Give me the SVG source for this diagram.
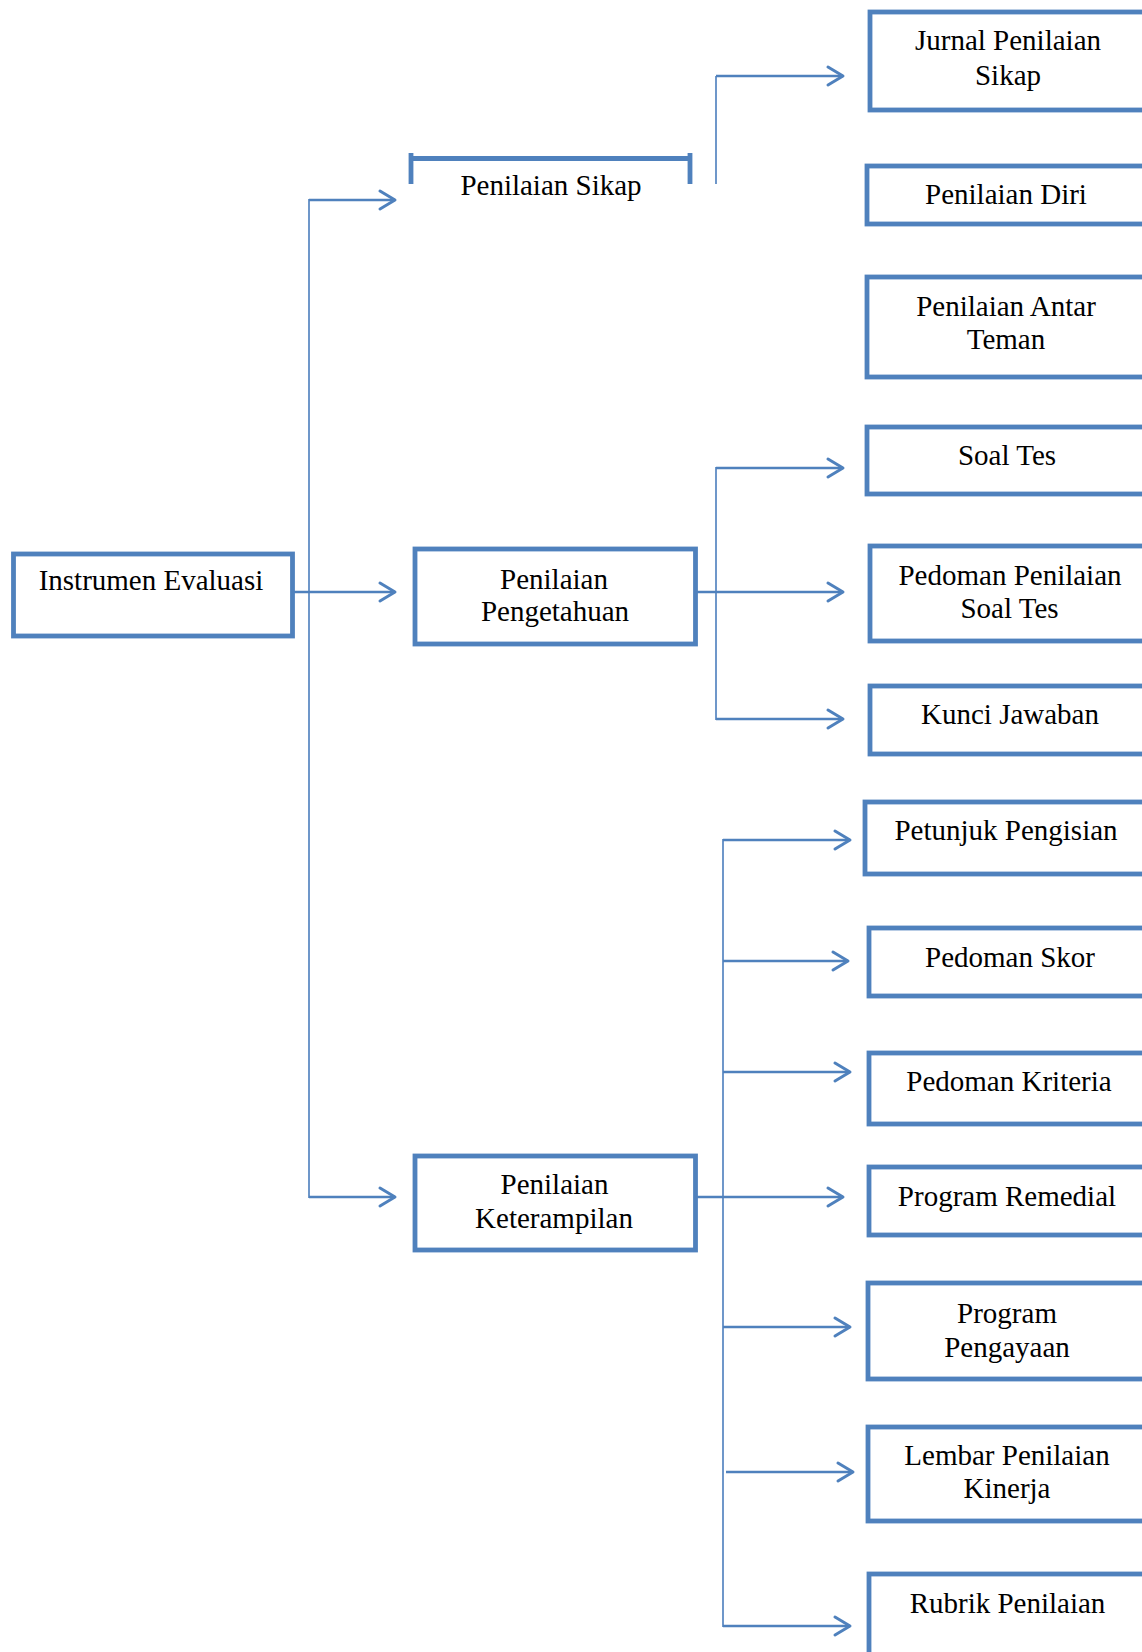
<svg xmlns="http://www.w3.org/2000/svg" width="1142" height="1652" viewBox="0 0 1142 1652">
<style>
.box{fill:#ffffff;stroke:#4F81BD;stroke-width:4.8;stroke-linecap:round}
.t{font-family:"Liberation Serif","Times New Roman",serif;font-size:29px;fill:#000;text-anchor:middle}
.h{stroke:#4F81BD;stroke-width:2.6;fill:none}
.v{stroke:#5F8CC4;stroke-width:1.8;fill:none}
</style>
<defs>
<marker id="arr" markerUnits="userSpaceOnUse" viewBox="-18 -12 21 24" refX="0" refY="0" markerWidth="21" markerHeight="24" orient="auto">
<path d="M-15,-9 L0,0 L-15,9" fill="none" stroke="#4F81BD" stroke-width="3" stroke-linejoin="round" stroke-linecap="round"/>
</marker>
</defs>
<rect width="1142" height="1652" fill="#ffffff"/>

<g id="connectors">
<line class="v" x1="309" y1="199" x2="309" y2="1198"/>
<line class="h" x1="309" y1="200" x2="395" y2="200" marker-end="url(#arr)"/>
<line class="h" x1="293" y1="592" x2="395" y2="592" marker-end="url(#arr)"/>
<line class="h" x1="309" y1="1197" x2="395" y2="1197" marker-end="url(#arr)"/>

<line class="v" x1="716" y1="184" x2="716" y2="76"/>
<line class="h" x1="716" y1="76" x2="843" y2="76" marker-end="url(#arr)"/>

<line class="v" x1="716" y1="467" x2="716" y2="720"/>
<line class="h" x1="716" y1="468" x2="843" y2="468" marker-end="url(#arr)"/>
<line class="h" x1="690" y1="592" x2="843" y2="592" marker-end="url(#arr)"/>
<line class="h" x1="716" y1="719" x2="843" y2="719" marker-end="url(#arr)"/>

<line class="v" x1="723" y1="839" x2="723" y2="1627"/>
<line class="h" x1="723" y1="840" x2="850" y2="840" marker-end="url(#arr)"/>
<line class="h" x1="723" y1="961" x2="848" y2="961" marker-end="url(#arr)"/>
<line class="h" x1="723" y1="1072" x2="850" y2="1072" marker-end="url(#arr)"/>
<line class="h" x1="695" y1="1197" x2="843" y2="1197" marker-end="url(#arr)"/>
<line class="h" x1="723" y1="1327" x2="850" y2="1327" marker-end="url(#arr)"/>
<line class="h" x1="726" y1="1472" x2="853" y2="1472" marker-end="url(#arr)"/>
<line class="h" x1="723" y1="1626" x2="850" y2="1626" marker-end="url(#arr)"/>
</g>

<g id="instrumen-evaluasi">
<rect class="box" x="13.5" y="554" width="279" height="82"/>
<text class="t" x="151" y="590">Instrumen Evaluasi</text>
</g>

<g id="penilaian-sikap">
<path d="M411,184 V153 M411,158.5 H690 M690,153 V184" fill="none" stroke="#4F81BD" stroke-width="4.8"/>
<text class="t" x="551" y="195">Penilaian Sikap</text>
</g>

<g id="penilaian-pengetahuan">
<rect class="box" x="415" y="549" width="280.5" height="95"/>
<text class="t" x="554" y="589">Penilaian</text>
<text class="t" x="555" y="621">Pengetahuan</text>
</g>

<g id="penilaian-keterampilan">
<rect class="box" x="415" y="1156" width="280.5" height="94"/>
<text class="t" x="554.5" y="1194">Penilaian</text>
<text class="t" x="554" y="1228">Keterampilan</text>
</g>

<g id="jurnal-penilaian-sikap">
<rect class="box" x="870" y="12" width="300" height="98"/>
<text class="t" x="1008" y="49.5">Jurnal Penilaian</text>
<text class="t" x="1008" y="85">Sikap</text>
</g>

<g id="penilaian-diri">
<rect class="box" x="867" y="166" width="300" height="58"/>
<text class="t" x="1006" y="204">Penilaian Diri</text>
</g>

<g id="penilaian-antar-teman">
<rect class="box" x="867" y="277" width="300" height="100"/>
<text class="t" x="1006" y="315.5">Penilaian Antar</text>
<text class="t" x="1006" y="348.5">Teman</text>
</g>

<g id="soal-tes">
<rect class="box" x="867" y="427" width="300" height="67"/>
<text class="t" x="1007" y="465">Soal Tes</text>
</g>

<g id="pedoman-penilaian-soal-tes">
<rect class="box" x="870" y="546" width="300" height="95"/>
<text class="t" x="1010" y="585">Pedoman Penilaian</text>
<text class="t" x="1009.5" y="618">Soal Tes</text>
</g>

<g id="kunci-jawaban">
<rect class="box" x="870" y="686" width="300" height="68"/>
<text class="t" x="1010" y="724">Kunci Jawaban</text>
</g>

<g id="petunjuk-pengisian">
<rect class="box" x="865" y="802" width="300" height="72"/>
<text class="t" x="1006" y="840">Petunjuk Pengisian</text>
</g>

<g id="pedoman-skor">
<rect class="box" x="869" y="928" width="300" height="68"/>
<text class="t" x="1010" y="966.5">Pedoman Skor</text>
</g>

<g id="pedoman-kriteria">
<rect class="box" x="869" y="1053" width="300" height="71"/>
<text class="t" x="1009" y="1091">Pedoman Kriteria</text>
</g>

<g id="program-remedial">
<rect class="box" x="869" y="1167" width="300" height="68"/>
<text class="t" x="1007" y="1205.5">Program Remedial</text>
</g>

<g id="program-pengayaan">
<rect class="box" x="868" y="1283" width="300" height="96"/>
<text class="t" x="1007" y="1323">Program</text>
<text class="t" x="1007" y="1356.5">Pengayaan</text>
</g>

<g id="lembar-penilaian-kinerja">
<rect class="box" x="868" y="1427" width="300" height="94"/>
<text class="t" x="1007" y="1464.5">Lembar Penilaian</text>
<text class="t" x="1007" y="1498">Kinerja</text>
</g>

<g id="rubrik-penilaian">
<rect class="box" x="869" y="1574" width="300" height="120"/>
<text class="t" x="1007.5" y="1613">Rubrik Penilaian</text>
</g>
</svg>
